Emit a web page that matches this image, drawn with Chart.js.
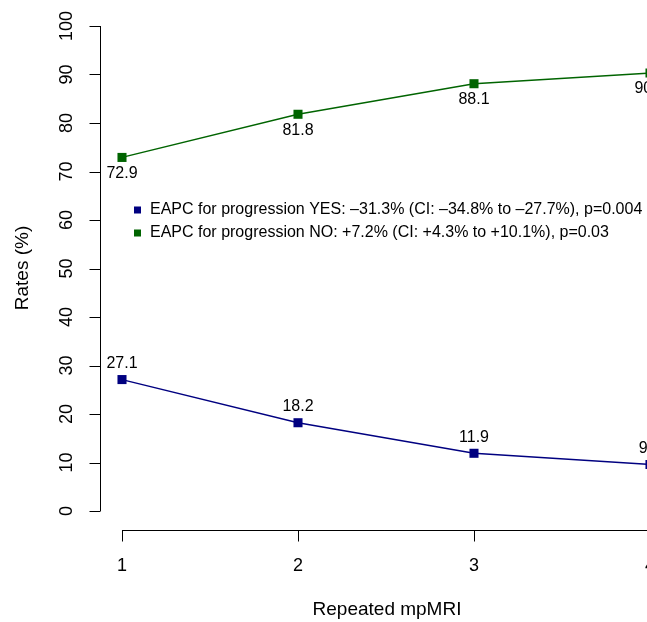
<!DOCTYPE html>
<html>
<head>
<meta charset="utf-8">
<script src="https://cdn.jsdelivr.net/npm/chart.js@4"></script>
<style>
  html, body { margin: 0; padding: 0; background: #fff; overflow: hidden; }
  #wrap { width: 647px; height: 622px; }
</style>
</head>
<body>
<div id="wrap"><canvas id="rates-chart" width="647" height="622"></canvas></div>
<script>
// data
const visits = [1, 2, 3, 4];
const progressionYes = [27.1, 18.2, 11.9, 9.6];
const progressionNo = [72.9, 81.8, 88.1, 90.3];
const yTicks = [0, 10, 20, 30, 40, 50, 60, 70, 80, 90, 100];
const xTicks = [1, 2, 3, 4];
const legendLines = [
    'EAPC for progression YES: \u201331.3% (CI: \u201334.8% to \u201327.7%), p=0.004',
    'EAPC for progression NO: +7.2% (CI: +4.3% to +10.1%), p=0.03'
];

const navy = '#000080';
const green = '#006400';
const font = '"Liberation Sans", Arial, Helvetica, sans-serif';

// R style detached axes + point labels + inset legend
const rAxes = {
    id: 'rAxes',
    afterDraw(chart) {
        const ctx = chart.ctx;
        const x = chart.scales.x, y = chart.scales.y;
        const area = chart.chartArea;
        ctx.save();
        ctx.strokeStyle = '#000';
        ctx.fillStyle = '#000';
        ctx.lineWidth = 1;

        // y axis
        const ax = area.left + 0.5;
        ctx.beginPath();
        ctx.moveTo(ax, y.getPixelForValue(yTicks[0]));
        ctx.lineTo(ax, y.getPixelForValue(yTicks[yTicks.length - 1]));
        yTicks.forEach(t => {
            const py = Math.round(y.getPixelForValue(t)) + 0.5;
            ctx.moveTo(ax, py);
            ctx.lineTo(ax - 11, py);
        });
        ctx.stroke();
        ctx.font = '18px ' + font;
        ctx.textAlign = 'center';
        ctx.textBaseline = 'middle';
        yTicks.forEach(t => {
            ctx.save();
            ctx.translate(67, y.getPixelForValue(t));
            ctx.rotate(-Math.PI / 2);
            ctx.fillText(String(t), 0, 0);
            ctx.restore();
        });

        // x axis
        const ay = 530.5;
        ctx.beginPath();
        ctx.moveTo(x.getPixelForValue(xTicks[0]), ay);
        ctx.lineTo(x.getPixelForValue(xTicks[xTicks.length - 1]), ay);
        xTicks.forEach(t => {
            const px = Math.round(x.getPixelForValue(t)) + 0.5;
            ctx.moveTo(px, ay);
            ctx.lineTo(px, ay + 11);
        });
        ctx.stroke();
        xTicks.forEach(t => {
            ctx.fillText(String(t), x.getPixelForValue(t), 566);
        });

        // axis titles
        ctx.font = '19px ' + font;
        ctx.fillText('Repeated mpMRI', 387, 610);
        ctx.save();
        ctx.translate(23, 268);
        ctx.rotate(-Math.PI / 2);
        ctx.fillText('Rates (%)', 0, 0);
        ctx.restore();

        // point labels
        ctx.font = '16px ' + font;
        chart.data.datasets.forEach((ds, i) => {
            const meta = chart.getDatasetMeta(i);
            meta.data.forEach((pt, j) => {
                const off = ds.labelBelow ? 16 : -16;
                ctx.fillText(ds.data[j].toFixed(1), pt.x, pt.y + off);
            });
        });

        // legend
        ctx.font = '16px ' + font;
        ctx.textAlign = 'left';
        [navy, green].forEach((c, i) => {
            const ly = 210 + i * 23;
            ctx.fillStyle = c;
            ctx.fillRect(134, ly - 3.5, 7, 7);
            ctx.fillStyle = '#000';
            ctx.fillText(legendLines[i], 150, ly);
        });
        ctx.restore();
    }
};

new Chart(document.getElementById('rates-chart'), {
    type: 'line',
    data: {
        labels: visits,
        datasets: [
            {
                label: 'Progression YES',
                data: progressionYes,
                borderColor: navy,
                backgroundColor: navy,
                borderWidth: 1.4,
                pointStyle: 'rect',
                pointRadius: 6.4,
                pointBorderWidth: 0,
                clip: false,
                labelBelow: false
            },
            {
                label: 'Progression NO',
                data: progressionNo,
                borderColor: green,
                backgroundColor: green,
                borderWidth: 1.4,
                pointStyle: 'rect',
                pointRadius: 6.4,
                pointBorderWidth: 0,
                clip: false,
                labelBelow: true
            }
        ]
    },
    options: {
        responsive: false,
        animation: false,
        layout: { autoPadding: false, padding: { left: 100, top: 26, bottom: 111, right: 0 } },
        scales: {
            x: { type: 'linear', min: 0.875, max: 3.983, display: false },
            y: { min: 0, max: 100, display: false }
        },
        plugins: {
            legend: { display: false },
            tooltip: { enabled: false }
        }
    },
    plugins: [rAxes]
});
</script>
</body>
</html>
